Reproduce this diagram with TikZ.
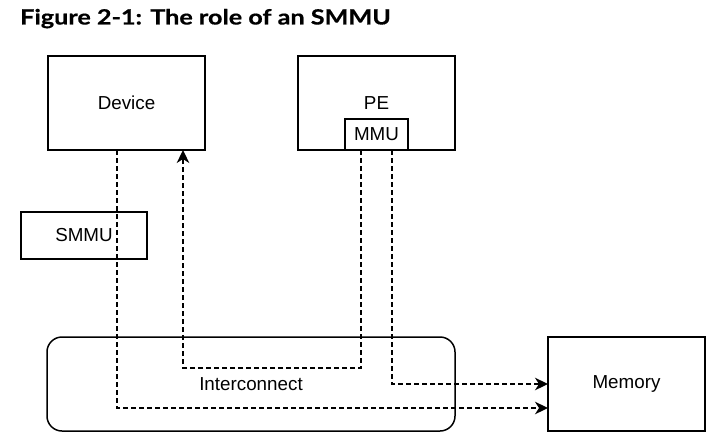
\documentclass[tikz,border=0pt]{standalone}
\usepackage{fontspec}
\setmainfont{Liberation Sans}
\newfontfamily\titlefont[FakeStretch=1.2,FakeBold=0.6]{Lato}
\usetikzlibrary{arrows.meta,calc}
\begin{document}
\begin{tikzpicture}[x=1pt,y=-1pt,
  box/.style={draw, line width=1.5pt, inner sep=0pt, outer sep=0pt, font=\fontsize{18.8}{21}\selectfont},
  dl/.style={line width=1.6pt, dash pattern=on 5pt off 3pt},
  tip/.style={-{Stealth[length=13pt,width=12.5pt,inset=4pt]}}]
\useasboundingbox (0,0) rectangle (719,444);
\node[anchor=base west, inner sep=0pt, font=\titlefont\bfseries\fontsize{21}{24}\selectfont] (title) at (20,24.5) {Figure 2-1: The role of an SMMU};
\node[box, minimum width=157pt, minimum height=94pt] (device) at (126.5,103) {Device};
\node[box, minimum width=157pt, minimum height=94pt] (pe) at (376.5,103) {PE};
\node[box, minimum width=63pt, minimum height=31pt] (mmu) at (376.5,134.5) {MMU};
\node[box, minimum width=126pt, minimum height=47pt] (smmu) at (84,235.5) {SMMU};
\node[box, rounded corners=15pt, minimum width=408pt, minimum height=94pt] (ic) at (251,384) {Interconnect};
\node[box, minimum width=157pt, minimum height=94pt] (memory) at (626.5,384) {Memory};
\coordinate (turn) at (183,368);
\draw[dl,tip] ($(device.south)+(-9.5,0)$) |- ($(memory.west)+(0,24)$);
\draw[dl,tip] ($(mmu.south)+(-15.5,0)$) |- (turn) -- (turn |- device.south);
\draw[dl,tip] ($(mmu.south)+(15.5,0)$) |- (memory.west);
\end{tikzpicture}
\end{document}
